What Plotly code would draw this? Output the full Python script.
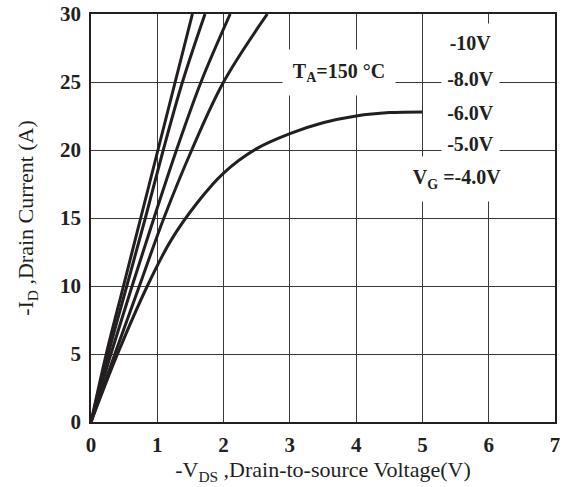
import plotly.graph_objects as go

# Output characteristics, T_A = 150 °C
vds_10v = [0, 0.23, 0.49, 0.75, 1.01, 1.27, 1.53]
id_10v = [0, 5, 10, 15, 20, 25, 30]

vds_8v = [0, 0.26, 0.54, 0.82, 1.09, 1.38, 1.72]
id_8v = [0, 5, 10, 15, 20, 25, 30]

vds_6v = [0, 0.30, 0.62, 0.95, 1.29, 1.66, 2.10]
id_6v = [0, 5, 10, 15, 20, 25, 30]

vds_5v = [0, 0.36, 0.73, 1.10, 1.52, 2.00, 2.66]
id_5v = [0, 5, 10, 15, 20, 25, 30]

vds_4v = [0, 0.40, 0.85, 1.20, 1.60, 2.00, 2.50, 3.00, 3.50, 4.00, 4.50, 5.00]
id_4v = [0, 5, 10, 13.3, 16.1, 18.3, 20.1, 21.2, 22.0, 22.5, 22.75, 22.8]

x_ticks = [0, 1, 2, 3, 4, 5, 6, 7]
y_ticks = [0, 5, 10, 15, 20, 25, 30]

FONT = "Liberation Serif, Times New Roman, serif"
INK = "#231f20"

fig = go.Figure()
for xs, ys in [(vds_10v, id_10v), (vds_8v, id_8v), (vds_6v, id_6v),
               (vds_5v, id_5v), (vds_4v, id_4v)]:
    fig.add_trace(go.Scatter(x=xs, y=ys, mode="lines",
                             line=dict(color=INK, width=3, shape="spline", smoothing=1.0),
                             showlegend=False, hoverinfo="skip"))

lab_font = dict(family=FONT, size=20, color=INK, weight="bold")
tick_font = dict(family=FONT, size=21, color=INK, weight="bold")

def label(text, x, y, w, h):
    fig.add_annotation(x=x, y=y, xref="x", yref="y", text=text, showarrow=False,
                       font=lab_font, bgcolor="white", width=w, height=h, borderpad=0,
                       xanchor="center", yanchor="middle")

label("-10V", 5.73, 27.85, 57, 38)
label("-8.0V", 5.73, 25.2, 57, 36)
label("-6.0V", 5.73, 22.75, 57, 33)
label("-5.0V", 5.73, 20.5, 57, 33)
label("V<sub>G</sub> =-4.0V", 5.52, 17.85, 96, 44)
label("T<sub>A</sub>=150 °C", 3.74, 25.7, 112, 45)

axis_common = dict(showgrid=True, gridcolor="#3a3a3a", gridwidth=1,
                   showline=True, linecolor=INK, linewidth=1.5, mirror=True,
                   zeroline=False, ticks="", tickfont=tick_font, automargin=False)

fig.update_xaxes(range=[0, 7], tickvals=x_ticks, ticklabelstandoff=3, **axis_common,
                 title=dict(text="-V<sub>DS</sub> ,Drain-to-source Voltage(V)",
                            font=dict(family=FONT, size=22, color=INK), standoff=0))
fig.update_yaxes(range=[0, 30], tickvals=y_ticks, ticklabelstandoff=4, **axis_common,
                 title=dict(text="-I<sub>D</sub> ,Drain Current (A)",
                            font=dict(family=FONT, size=22, color=INK), standoff=20))

fig.update_layout(width=564, height=487, plot_bgcolor="white", paper_bgcolor="white",
                  margin=dict(l=91, r=9, t=14, b=65))
fig.write_html("out.html")
